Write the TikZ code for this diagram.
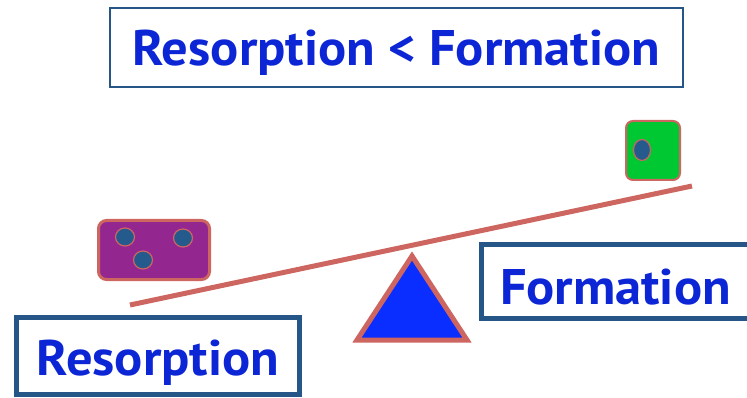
\documentclass[tikz,border=0pt]{standalone}
\usepackage{fontspec}
\setmainfont[FakeStretch=1.05]{PT Sans}
\usepackage{tikz}
\usetikzlibrary{positioning,calc,shapes.geometric}
\usepackage{xcolor}
\definecolor{framblue}{RGB}{38,86,136}
\definecolor{txtblue}{RGB}{12,38,214}
\definecolor{salmon}{RGB}{205,102,96}
\definecolor{cellpurple}{RGB}{147,39,143}
\definecolor{cellgreen}{RGB}{0,200,50}
\definecolor{nucblue}{RGB}{36,90,140}
\definecolor{pivotblue}{RGB}{10,46,255}

\begin{document}
\begin{tikzpicture}[
			x=1pt,y=-1pt,
			label/.style={draw=framblue,line width=5pt,rectangle,text=txtblue,
				font=\fontsize{50}{52}\selectfont\bfseries,inner sep=0pt,text depth=0pt},
			cell/.style={draw=salmon,rounded corners=8pt,inner sep=0pt},
			nucleus/.style={ellipse,draw=salmon,line width=1.2pt,fill=nucblue,
				minimum width=19pt,minimum height=18pt,inner sep=0pt},
			beam/.style={draw=salmon,line width=5pt}
			]
			\useasboundingbox (0,0) rectangle (747,398);
			
			% Title
			\node[label,line width=2pt,text height=37pt,minimum width=573pt,minimum height=79pt] (title) at (396.5,47.5){Resorption < Formation};
			
			% Beam and pivot
			\coordinate (beamL) at (130,305);
			\coordinate (beamR) at (692,186);
			\draw[beam] (beamL)--(beamR);
			\coordinate (top) at (412,256);
			\coordinate (baseL) at (357,340);
			\coordinate (baseR) at (467,340);
			\draw[draw=salmon,fill=pivotblue,line width=5pt,line join=miter] (top)--(baseR)--(baseL)--cycle;
			
			% Cells
			\node[cell,fill=cellpurple,line width=3pt,minimum width=111pt,minimum height=59pt] (osteoclast) at (154,250){};
			\node[nucleus] (n1) at (125,237){};
			\node[nucleus] (n2) at (183,238){};
			\node[nucleus] (n3) at (143,260){};
			
			\node[cell,fill=cellgreen,line width=2pt,rounded corners=7pt,minimum width=54pt,minimum height=59pt] (osteoblast) at (653,150.5){};
			\node[nucleus,minimum width=17pt,minimum height=21pt] (n4) at (642,150){};
			
			% Labels
			\node[label,text height=38pt,minimum width=283pt,minimum height=77pt] (resorption) at (158,356){Resorption};
			\node[label,text height=45pt,minimum width=268pt,minimum height=74pt] (formation) at (615.5,281.5){Formation};
			
		\end{tikzpicture}
\end{document}
